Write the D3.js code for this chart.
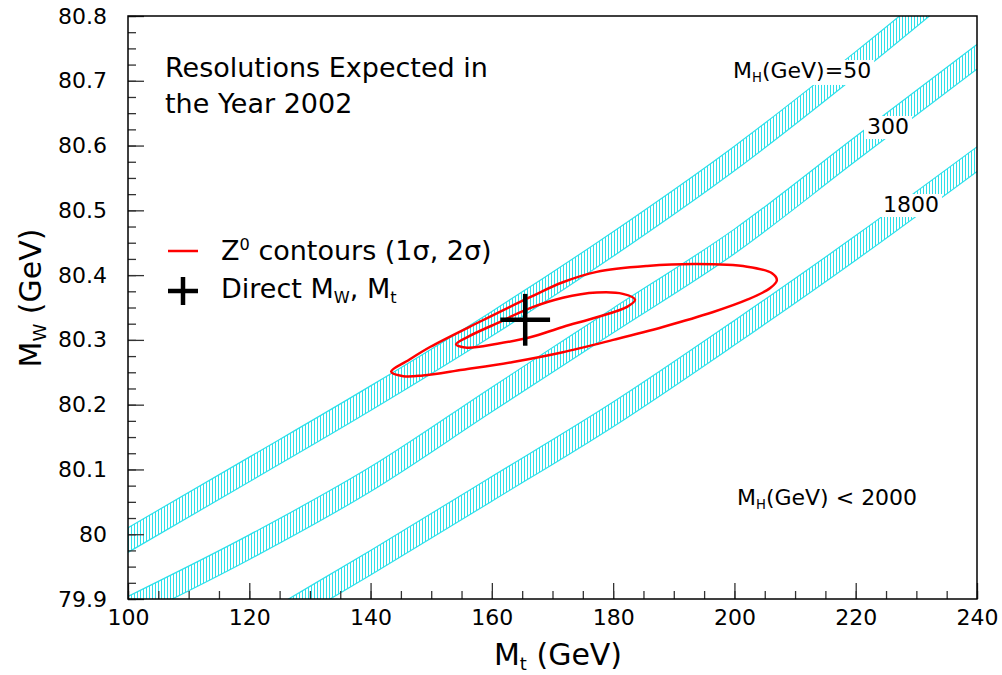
<!DOCTYPE html>
<html>
<head>
<meta charset="utf-8">
<script src="https://cdn.jsdelivr.net/npm/d3@7"></script>
<style>
body { margin: 0; background: #fff; }
svg text { font-family: "DejaVu Sans", sans-serif; fill: #000; }
</style>
</head>
<body>
<div id="chart"></div>
<script>
var widthsvg = 1002;
var heightsvg = 675;
var margin = {top: 16, right: 25, bottom: 76, left: 128};
var width = widthsvg - margin.left - margin.right;
var height = heightsvg - margin.top - margin.bottom;

// centre of each Higgs-mass band, Mw (GeV) against Mt (GeV)
var bandMt = [100, 120, 140, 160, 180, 200, 220, 240];
var band50 = [79.991, 80.100, 80.210, 80.325, 80.448, 80.580, 80.726, 80.880];
var band300 = [79.885, 79.980, 80.085, 80.208, 80.330, 80.452, 80.595, 80.737];
var band1800 = [79.730, 79.845, 79.956, 80.070, 80.185, 80.311, 80.442, 80.579];
var bandHalf = 0.019;

// Z0 contours (outer = 2 sigma, inner = 1 sigma)
var outerMt = [143.4, 146.3, 149.8, 158.0, 166.3, 171.7, 177.3, 185.6, 193.8, 202.1, 206.2, 207.0, 205.9, 202.1, 196.5, 188.2, 180.0, 171.7, 163.5, 155.2, 148.6, 145.4];
var outerMw = [80.251, 80.269, 80.289, 80.328, 80.366, 80.389, 80.405, 80.414, 80.417, 80.413, 80.403, 80.392, 80.380, 80.362, 80.343, 80.320, 80.300, 80.281, 80.266, 80.254, 80.245, 80.244];
var innerMt = [154.1, 155.9, 160.9, 166.3, 171.7, 177.3, 181.6, 183.6, 182.3, 177.3, 171.7, 166.3, 160.9, 155.9];
var innerMw = [80.293, 80.304, 80.326, 80.349, 80.365, 80.373, 80.371, 80.362, 80.351, 80.335, 80.320, 80.304, 80.294, 80.288];

// direct measurement
var directMt = 165.5, directMtErr = 4.1;
var directMw = 80.331, directMwErr = 0.040;

// axis ticks
var xTicks = [100, 120, 140, 160, 180, 200, 220, 240];
var yTicks = [79.9, 80, 80.1, 80.2, 80.3, 80.4, 80.5, 80.6, 80.7, 80.8];

var svg = d3.select("#chart")
    .append("svg")
    .attr("width", widthsvg)
    .attr("height", heightsvg);

var defs = svg.append("defs");
defs.append("clipPath").attr("id", "plotclip")
    .append("rect").attr("width", width).attr("height", height);

var hatch = defs.append("pattern")
    .attr("id", "hatch")
    .attr("patternUnits", "userSpaceOnUse")
    .attr("width", 3).attr("height", 10);
hatch.append("line")
    .attr("x1", 0.5).attr("y1", 0).attr("x2", 0.5).attr("y2", 10)
    .attr("stroke", "#2ee0ea").attr("stroke-width", 1);

var chartGroup = svg.append("g")
    .attr("transform", `translate(${margin.left}, ${margin.top})`);

var x = d3.scaleLinear().domain([100, 240]).range([0, width]);
var y = d3.scaleLinear().domain([79.9, 80.8]).range([height, 0]);

// bands
var plot = chartGroup.append("g").attr("clip-path", "url(#plotclip)");

var bands = [band50, band300, band1800];
var area = d3.area()
    .x(d => x(d.mt))
    .y0(d => y(d.mw - bandHalf))
    .y1(d => y(d.mw + bandHalf))
    .curve(d3.curveMonotoneX);
var edge = d3.line()
    .x(d => x(d.mt))
    .y(d => y(d.mw))
    .curve(d3.curveMonotoneX);

bands.forEach(function(b) {
    var pts = bandMt.map((m, i) => ({mt: m, mw: b[i]}));
    plot.append("path")
        .datum(pts)
        .attr("d", area)
        .attr("fill", "url(#hatch)");
    [bandHalf, -bandHalf].forEach(function(off) {
        plot.append("path")
            .datum(pts.map(p => ({mt: p.mt, mw: p.mw + off})))
            .attr("d", edge)
            .attr("fill", "none")
            .attr("stroke", "#2ee0ea")
            .attr("stroke-width", 1.2);
    });
});

// contours
var contourLine = d3.line()
    .x(d => x(d[0]))
    .y(d => y(d[1]))
    .curve(d3.curveCatmullRomClosed.alpha(0.5));

var contours = [[outerMt, outerMw], [innerMt, innerMw]];
contours.forEach(function(c) {
    plot.append("path")
        .datum(c[0].map((m, i) => [m, c[1][i]]))
        .attr("d", contourLine)
        .attr("fill", "none")
        .attr("stroke", "#f00")
        .attr("stroke-width", 2.5);
});

// direct point
plot.append("line")
    .attr("x1", x(directMt - directMtErr)).attr("x2", x(directMt + directMtErr))
    .attr("y1", y(directMw)).attr("y2", y(directMw))
    .attr("stroke", "#000").attr("stroke-width", 4.5);
plot.append("line")
    .attr("x1", x(directMt)).attr("x2", x(directMt))
    .attr("y1", y(directMw - directMwErr)).attr("y2", y(directMw + directMwErr))
    .attr("stroke", "#000").attr("stroke-width", 4.5);

// axes
var yMinor = d3.range(0, 37).map(i => 79.9 + i * 0.025);
var xMinor = d3.range(100, 241, 5);

chartGroup.append("g")
    .call(d3.axisLeft(y).tickValues(yMinor).tickSize(-8).tickFormat(""))
    .call(g => g.select(".domain").remove());
chartGroup.append("g")
    .attr("class", "yaxis")
    .call(d3.axisLeft(y).tickValues(yTicks).tickSize(-16).tickPadding(21)
        .tickFormat(d3.format(".1~f")))
    .call(g => g.select(".domain").remove());

chartGroup.append("g")
    .attr("transform", `translate(0, ${height})`)
    .call(d3.axisBottom(x).tickValues(xMinor).tickSize(-8).tickFormat(""))
    .call(g => g.select(".domain").remove());
chartGroup.append("g")
    .attr("class", "xaxis")
    .attr("transform", `translate(0, ${height})`)
    .call(d3.axisBottom(x).tickValues(xTicks).tickSize(-16).tickPadding(10))
    .call(g => g.select(".domain").remove());

chartGroup.selectAll(".tick line").attr("stroke", "#333").attr("stroke-width", 1.3);
chartGroup.selectAll(".tick text")
    .attr("font-family", "DejaVu Sans")
    .attr("font-size", 22)
    .attr("fill", "#000");

chartGroup.append("rect")
    .attr("width", width).attr("height", height)
    .attr("fill", "none").attr("stroke", "#000").attr("stroke-width", 1.5);

// text helper: parts are [text, "sub"|"sup"|null]
function label(g, px, py, size, parts, bg) {
    var t = g.append("text").attr("x", px).attr("y", py).attr("font-size", size);
    parts.forEach(function(p) {
        var s = t.append("tspan").text(p[0]);
        if (p[1] === "sub") s.attr("font-size", size * 0.6).attr("dy", size * 0.18);
        else if (p[1] === "sup") s.attr("font-size", size * 0.6).attr("dy", -size * 0.38);
        else if (p[1] === "back") s.attr("dy", -size * 0.18);
        else if (p[1] === "down") s.attr("dy", size * 0.38);
    });
    if (bg) {
        var b = t.node().getBBox();
        g.insert("rect", function() { return t.node(); })
            .attr("x", b.x - 3).attr("y", b.y + 2)
            .attr("width", b.width + 6).attr("height", b.height - 2)
            .attr("fill", "#fff");
    }
    return t;
}

var notes = svg.append("g");
label(notes, 165, 77, 27, [["Resolutions Expected in", null]]);
label(notes, 165, 113, 27, [["the Year 2002", null]]);

// legend
notes.append("line")
    .attr("x1", 168).attr("x2", 198).attr("y1", 251).attr("y2", 251)
    .attr("stroke", "#f00").attr("stroke-width", 2.5);
label(notes, 221, 260, 27, [["Z", null], ["0", "sup"], [" contours (1σ, 2σ)", "down"]]);
notes.append("line")
    .attr("x1", 168).attr("x2", 198).attr("y1", 291).attr("y2", 291)
    .attr("stroke", "#000").attr("stroke-width", 4.5);
notes.append("line")
    .attr("x1", 183).attr("x2", 183).attr("y1", 277).attr("y2", 305)
    .attr("stroke", "#000").attr("stroke-width", 4.5);
label(notes, 221, 298, 27, [["Direct M", null], ["W", "sub"], [", M", "back"], ["t", "sub"]]);

// higgs mass labels
label(notes, 733, 78, 22, [["M", null], ["H", "sub"], ["(GeV)=50", "back"]], true);
label(notes, 867, 134, 22, [["300", null]], true);
label(notes, 883, 212, 22, [["1800", null]], true);
label(notes, 737, 505, 22, [["M", null], ["H", "sub"], ["(GeV) < 2000", "back"]]);

// axis titles
label(notes, 558, 665, 30, [["M", null], ["t", "sub"], [" (GeV)", "back"]]).attr("text-anchor", "middle");
var yt = notes.append("g").attr("transform", "translate(41, 298) rotate(-90)");
label(yt, 0, 0, 30, [["M", null], ["W", "sub"], [" (GeV)", "back"]]).attr("text-anchor", "middle");
</script>
</body>
</html>
